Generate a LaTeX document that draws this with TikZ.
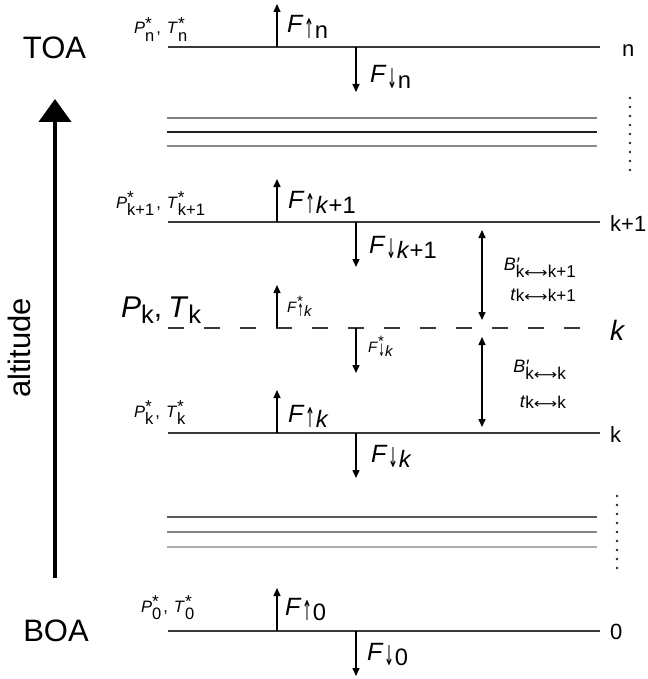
\documentclass[tikz,border=0pt]{standalone}
\usepackage{fontspec}
\usepackage{graphicx}
\setmainfont{Liberation Sans}
\newfontfamily\arrfont{DejaVu Sans}
\usetikzlibrary{arrows.meta}
\makeatletter
\newcommand\szs[1]{\@tempdima=\f@size pt\relax\@tempdima=#1\@tempdima\edef\my@s{\strip@pt\@tempdima}\fontsize{\my@s}{\my@s}\selectfont}
\makeatother
% subscript: scale, lowering (em), text
\newcommand\sbx[3]{\raisebox{-#2em}{\szs{#1}#3}}
% superscript: scale, raise (em), text
\newcommand\spx[3]{\raisebox{#2em}{\szs{#1}#3}}
\newcommand\UP{\kern0.02em\scalebox{0.5}[1.15]{\arrfont ↑}\kern0.03em}
\newcommand\DN{\kern0.02em\scalebox{0.5}[1.15]{\arrfont ↓}\kern0.03em}
\newcommand\LR{\scalebox{0.95}[0.8]{\arrfont ⟷}}
\newcommand\Fsub[1]{\textit{F}\sbx{0.95}{0.22}{#1}}
\newcommand\PT[1]{\textit{P}\rlap{\spx{1.05}{0.3}{*}}\sbx{1}{0.45}{#1}\kern2pt,\kern6pt\textit{T}\rlap{\spx{1.05}{0.3}{*}}\sbx{1}{0.45}{#1}}
\begin{document}
\begin{tikzpicture}[x=1pt,y=-1pt,
  lab/.style={inner sep=0pt, anchor=base west},
  fbig/.style={lab, font=\fontsize{25}{25}\selectfont},
  fsml/.style={lab, font=\fontsize{15}{15}\selectfont},
  plab/.style={lab, font=\fontsize{16.5}{16.5}\selectfont},
  blab/.style={inner sep=0pt, anchor=base east, font=\fontsize{18}{18}\selectfont},
  rlab/.style={lab, font=\fontsize{22}{22}\selectfont},
  side/.style={inner sep=0pt, font=\fontsize{31}{31}\selectfont},
  level/.style={line width=1.8pt, draw=black!78},
  thin/.style={line width=1.2pt},
  flux/.style={line width=1.5pt, -{Triangle[length=8pt,width=7pt]}},
  dflux/.style={line width=1.5pt, {Triangle[length=8pt,width=7pt]}-{Triangle[length=8pt,width=7pt]}},
  dotcol/.style={line width=2.6pt, line cap=round, dash pattern=on 0pt off 9pt, draw=black!85}
]
\useasboundingbox (0,0) rectangle (647,679);

% level line end points
\foreach \nm/\y in {n/47, kp/222, kd/328, k/433, z/631}{
  \coordinate (\nm-w) at (168,\y);
  \coordinate (\nm-e) at (600,\y);
  \coordinate (\nm-u) at (277,\y);
  \coordinate (\nm-d) at (356,\y);
  \coordinate (\nm-ut) at (277,\y-43);
  \coordinate (\nm-dt) at (356,\y+45);
}
\draw[level] (n-w) -- (n-e);
\draw[level] (kp-w) -- (kp-e);
\draw[level] (k-w) -- (k-e);
\draw[level] (z-w) -- (z-e);
\draw[level, dash pattern=on 16pt off 20pt] (kd-w) -- (580,328);

% thin layer lines
\coordinate (t1w) at (167,118); \coordinate (t1e) at (597,118);
\coordinate (t2w) at (167,132); \coordinate (t2e) at (597,132);
\coordinate (t3w) at (167,146); \coordinate (t3e) at (597,146);
\coordinate (b1w) at (167,517); \coordinate (b1e) at (597,517);
\coordinate (b2w) at (167,532); \coordinate (b2e) at (597,532);
\coordinate (b3w) at (167,547); \coordinate (b3e) at (597,547);
\draw[thin, draw=black!50] (t1w) -- (t1e);
\draw[thin, draw=black!88] (t2w) -- (t2e);
\draw[thin, draw=black!45] (t3w) -- (t3e);
\draw[thin, draw=black!65] (b1w) -- (b1e);
\draw[thin, draw=black!48] (b2w) -- (b2e);
\draw[thin, draw=black!33] (b3w) -- (b3e);

% dotted continuation marks
\coordinate (dt1) at (630,98); \coordinate (dt2) at (630,171);
\coordinate (db1) at (617,496); \coordinate (db2) at (617,569);
\draw[dotcol] (dt1) -- (dt2);
\draw[dotcol] (db1) -- (db2);

% flux arrows
\foreach \nm in {n,kp,kd,k,z}{
  \draw[flux] (\nm-u) -- (\nm-ut);
  \draw[flux] (\nm-d) -- (\nm-dt);
}

% double arrows between levels
\coordinate (da1) at (482,230); \coordinate (da2) at (482,320);
\coordinate (da3) at (482,337); \coordinate (da4) at (482,427);
\draw[dflux] (da1) -- (da2);
\draw[dflux] (da3) -- (da4);

% altitude arrow
\coordinate (alt0) at (55,578); \coordinate (alt1) at (55,99);
\draw[line width=4pt, -{Triangle[length=23pt,width=32pt]}] (alt0) -- (alt1);
\node[side] (toa) at (54.5,48) {TOA};
\node[side] (boa) at (56,631) {BOA};
\node[side, rotate=90] (alt) at (19,348) {altitude};

% flux labels
\node[fbig] (fun) at (287,33) {\Fsub{\UP n}};
\node[fbig] (fdn) at (370,83) {\Fsub{\DN n}};
\node[fbig] (fukp) at (288,208) {\Fsub{\UP\textit{k}+1}};
\node[fbig] (fdkp) at (369,253) {\Fsub{\DN\textit{k}+1}};
\node[fsml] (fukd) at (287,312) {\textit{F}\rlap{\spx{1}{0.4}{*}}\sbx{1}{0.3}{\UP\textit{k}}};
\node[fsml] (fdkd) at (368,352) {\textit{F}\rlap{\spx{1}{0.4}{*}}\sbx{1}{0.3}{\DN\textit{k}}};
\node[fbig] (fuk) at (288,422) {\Fsub{\UP\textit{k}}};
\node[fbig] (fdk) at (371,462) {\Fsub{\DN\textit{k}}};
\node[fbig] (fuz) at (285,615) {\Fsub{\UP 0}};
\node[fbig] (fdz) at (367,660) {\Fsub{\DN 0}};

% left level labels
\node[plab] (pn) at (134,34) {\PT{n}};
\node[plab] (pkp) at (116,208) {\PT{k+1}};
\node[lab, font=\fontsize{30}{30}\selectfont] (pkd) at (121,317) {\textit{P}\sbx{0.85}{0.2}{k},\kern6pt\textit{T}\sbx{0.85}{0.2}{k}};
\node[plab] (pk) at (134,417) {\PT{k}};
\node[plab] (pz) at (141,612) {\PT{0}};

% B' and t labels
\node[blab] (b1) at (576,270) {\textit{B}\rlap{\textit{′}}\sbx{0.95}{0.42}{k\LR k+1}};
\node[blab] (tt1) at (576,300) {\textit{t}\sbx{0.95}{0.1}{k\LR k+1}};
\node[blab] (b2) at (566,372) {\textit{B}\rlap{\textit{′}}\sbx{0.95}{0.42}{k\LR k}};
\node[blab] (tt2) at (566,407) {\textit{t}\sbx{0.95}{0.1}{k\LR k}};

% right level labels
\node[rlab] (rn) at (622,57) {n};
\node[rlab] (rkp) at (610,231) {k+1};
\node[lab, font=\fontsize{28}{28}\selectfont] (rkd) at (610,340) {\textit{k}};
\node[rlab] (rk) at (610,442) {k};
\node[rlab] (rz) at (610,639) {0};
\end{tikzpicture}
\end{document}
